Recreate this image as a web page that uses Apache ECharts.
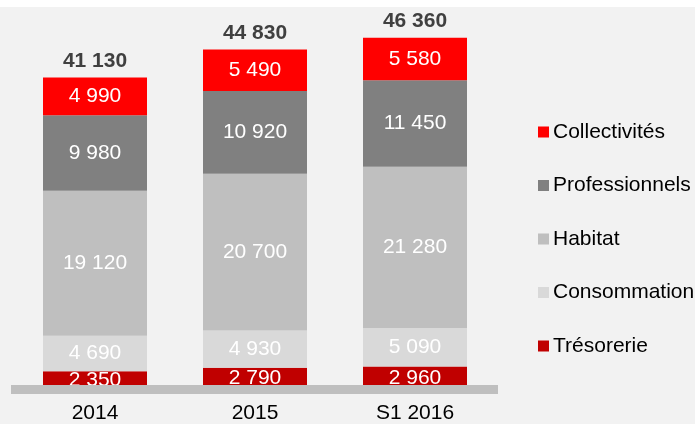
<!DOCTYPE html>
<html>
<head>
<meta charset="utf-8">
<script src="https://cdn.jsdelivr.net/npm/echarts@6/dist/echarts.min.js"></script>
<style>
  html, body { margin: 0; padding: 0; background: #fff; }
  #main { position: absolute; left: 0; top: 7px; width: 695px; height: 417px; background: #f2f2f2; }
</style>
</head>
<body>
<div id="main"></div>
<script>
// données
var categories = ['2014', '2015', 'S1 2016'];
var tresorerie = [2350, 2790, 2960];
var consommation = [4690, 4930, 5090];
var habitat = [19120, 20700, 21280];
var professionnels = [9980, 10920, 11450];
var collectivites = [4990, 5490, 5580];
var totals = [41130, 44830, 46360];

function fmt(v) {
  return String(v).replace(/\B(?=(\d{3})+(?!\d))/g, ' ');
}

var font = "'Liberation Sans', Arial, sans-serif";

function seg(name, data, color) {
  return {
    name: name,
    type: 'bar',
    stack: 'total',
    barWidth: 104,
    data: data,
    itemStyle: { color: color },
    label: {
      show: true,
      position: 'inside',
      color: '#fff',
      fontFamily: font,
      fontSize: 21,
      formatter: function (p) { return fmt(p.value); }
    }
  };
}

var myChart = echarts.init(document.getElementById('main'));
myChart.setOption({
  animation: false,
  grid: [
    { left: 15, width: 480, top: 3.3, bottom: 34.5 },
    { left: 11, width: 487, top: 3.3, bottom: 34.5 }
  ],
  legend: {
    orient: 'vertical',
    left: 533,
    top: 109.5,
    itemWidth: 11,
    itemHeight: 11,
    itemGap: 32.5,
    icon: 'rect',
    data: ['Collectivités', 'Professionnels', 'Habitat', 'Consommation', 'Trésorerie'],
    textStyle: { fontFamily: font, fontSize: 21, color: '#000', padding: [0, 0, 0, -1] }
  },
  xAxis: [
    {
      type: 'category',
      gridIndex: 0,
      data: categories,
      axisLine: { show: false },
      axisTick: { show: false },
      axisLabel: { fontFamily: font, fontSize: 21, color: '#000', margin: 14 }
    },
    {
      // barre grise de l'axe
      type: 'category',
      gridIndex: 1,
      data: categories,
      z: 10,
      axisLine: { lineStyle: { color: '#bfbfbf', width: 9, cap: 'butt' } },
      axisTick: { show: false },
      axisLabel: { show: false }
    }
  ],
  yAxis: [
    { type: 'value', gridIndex: 0, min: 0, max: 50000, show: false },
    { type: 'value', gridIndex: 1, min: 0, max: 50000, show: false }
  ],
  series: [
    seg('Trésorerie', tresorerie, '#c00000'),
    seg('Consommation', consommation, '#d9d9d9'),
    seg('Habitat', habitat, '#bfbfbf'),
    seg('Professionnels', professionnels, '#808080'),
    seg('Collectivités', collectivites, '#ff0000'),
    {
      name: 'Total',
      type: 'bar',
      stack: 'total',
      barWidth: 104,
      data: totals.map(function () { return 0; }),
      itemStyle: { color: 'transparent' },
      label: {
        show: true,
        position: 'top',
        distance: 6,
        color: '#404040',
        fontFamily: font,
        fontSize: 21,
        fontWeight: 'bold',
        formatter: function (p) { return fmt(totals[p.dataIndex]); }
      }
    }
  ]
});
</script>
</body>
</html>
